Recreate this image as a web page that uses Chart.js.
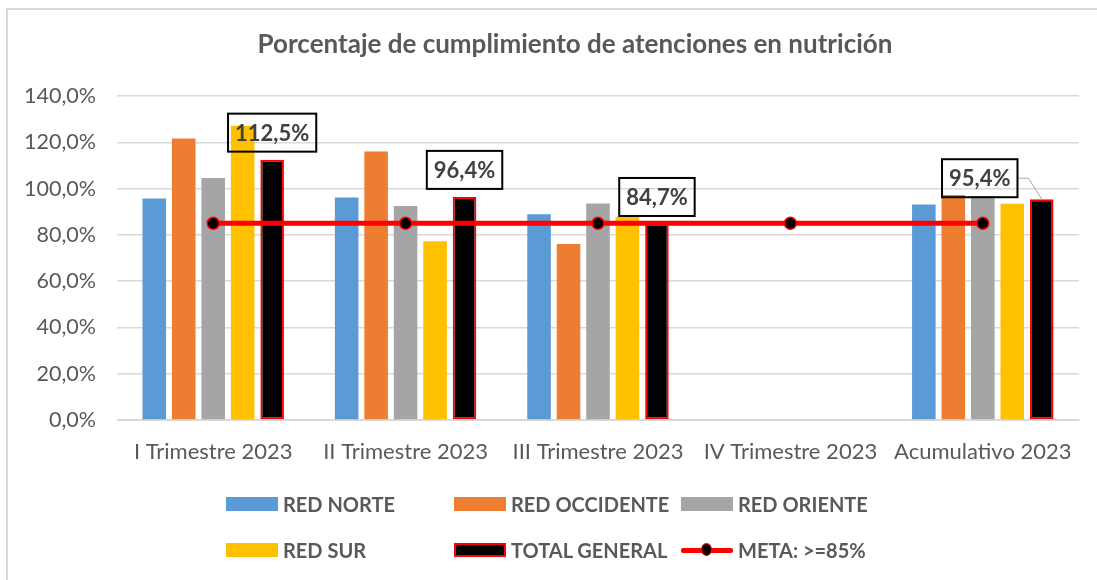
<!DOCTYPE html>
<html>
<head>
<meta charset="utf-8">
<script src="https://cdn.jsdelivr.net/npm/chart.js@4/dist/chart.umd.min.js"></script>
<style>
  html, body { margin: 0; padding: 0; background: #fff; }
  #wrap { position: relative; width: 1097px; height: 580px; overflow: hidden; font-family: Lato, 'Open Sans', sans-serif; }
  #frame { position: absolute; left: 6px; top: 8px; width: 1200px; height: 700px; border-left: 2px solid #d9d9d9; border-top: 2px solid #d9d9d9; pointer-events: none; }
  .lg { position: absolute; display: flex; align-items: center; font-weight: bold; font-size: 20px; color: #595959; white-space: nowrap; }
  .sw { width: 52px; height: 14px; margin-right: 5px; box-sizing: border-box; }
  .ln { width: 52px; height: 14px; margin-right: 5px; position: relative; }
  .ln:before { content: ''; position: absolute; left: 0; right: 0; top: 5px; height: 5px; background: #ff0000; border-radius: 2px; }
  .ln:after { content: ''; position: absolute; left: 20px; top: 0; width: 11px; height: 13px; background: #000; border: 1.5px solid #ff0000; border-radius: 50%; box-sizing: border-box; }
</style>
</head>
<body>
<div id="wrap">
  <canvas id="chart" width="1097" height="580"></canvas>
  <div id="frame"></div>
  <div id="legend"></div>
</div>
<script>
(function () {
  'use strict';

  var TITLE = 'Porcentaje de cumplimiento de atenciones en nutrición';
  var CATEGORIES = ['I Trimestre 2023', 'II Trimestre 2023', 'III Trimestre 2023', 'IV Trimestre 2023', 'Acumulativo 2023'];
  var RED_NORTE = [95.7, 96.1, 88.9, null, 93.1];
  var RED_OCCIDENTE = [121.6, 116.0, 76.0, null, 97.2];
  var RED_ORIENTE = [104.6, 92.5, 93.6, null, 96.8];
  var RED_SUR = [127.1, 77.2, 87.8, null, 93.4];
  var TOTAL_GENERAL = [112.5, 96.4, 84.7, null, 95.4];
  var META = [85, 85, 85, 85, 85];
  var Y_TICKS = [0, 20, 40, 60, 80, 100, 120, 140];

  // label box shift for the total series (last one is pulled left with a leader line)
  var LABEL_SHIFT = [[0, 8], [0, 8], [0, 8], [0, 8], [-62, 2]];

  var TEXT = '#595959';
  var GRID = '#d9d9d9';
  var FONT = 'Lato, "Open Sans", sans-serif';

  function pct(v) {
    return v.toFixed(1).replace('.', ',') + '%';
  }

  var chartTitle = {
    id: 'chartTitle',
    afterDraw: function (chart) {
      var ctx = chart.ctx;
      ctx.save();
      ctx.font = 'bold 26px ' + FONT;
      ctx.fillStyle = TEXT;
      ctx.textAlign = 'center';
      ctx.textBaseline = 'middle';
      ctx.fillText(TITLE, 575, 45);
      ctx.restore();
    }
  };

  var totalLabels = {
    id: 'totalLabels',
    afterDatasetsDraw: function (chart) {
      var meta = chart.getDatasetMeta(4);
      var ctx = chart.ctx;
      ctx.save();
      ctx.font = 'bold 22px ' + FONT;
      ctx.textAlign = 'center';
      ctx.textBaseline = 'middle';
      meta.data.forEach(function (bar, i) {
        var v = TOTAL_GENERAL[i];
        if (v === null) return;
        var txt = pct(v);
        var w = ctx.measureText(txt).width + 14;
        var h = 38;
        var cx = bar.x + LABEL_SHIFT[i][0];
        var bottom = bar.y - LABEL_SHIFT[i][1];
        var top = bottom - h;
        if (LABEL_SHIFT[i][0] !== 0) {
          ctx.strokeStyle = '#a6a6a6';
          ctx.lineWidth = 1;
          ctx.beginPath();
          ctx.moveTo(cx + w / 2, top + h / 2);
          ctx.lineTo(cx + w / 2 + 11, top + h / 2);
          ctx.lineTo(bar.x, bar.y);
          ctx.stroke();
        }
        ctx.strokeStyle = '#000';
        ctx.lineWidth = 2;
        ctx.strokeRect(cx - w / 2, top, w, h);
        ctx.fillStyle = '#404040';
        ctx.fillText(txt, cx, top + h / 2 + 1);
      });
      ctx.restore();
    }
  };

  function barSet(label, data, color) {
    return {
      type: 'bar', label: label, data: data, backgroundColor: color, borderWidth: 0,
      categoryPercentage: 0.766, barPercentage: 0.8, order: 1
    };
  }

  var datasets = [
    barSet('RED NORTE', RED_NORTE, '#5b9bd5'),
    barSet('RED OCCIDENTE', RED_OCCIDENTE, '#ed7d31'),
    barSet('RED ORIENTE', RED_ORIENTE, '#a5a5a5'),
    barSet('RED SUR', RED_SUR, '#ffc000'),
    {
      type: 'bar', label: 'TOTAL GENERAL', data: TOTAL_GENERAL, backgroundColor: '#000000',
      borderColor: '#ff0000', borderWidth: 2, borderSkipped: false,
      categoryPercentage: 0.766, barPercentage: 0.8, order: 1
    },
    {
      type: 'line', label: 'META: >=85%', data: META, borderColor: '#ff0000', borderWidth: 5,
      pointRadius: 6, pointBackgroundColor: '#000000', pointBorderColor: '#ff0000', pointBorderWidth: 1.5,
      fill: false, tension: 0, order: 0
    }
  ];

  new Chart(document.getElementById('chart').getContext('2d'), {
    data: { labels: CATEGORIES, datasets: datasets },
    options: {
      responsive: false,
      animation: false,
      layout: { padding: { top: 96, right: 18 } },
      plugins: {
        legend: { display: false },
        tooltip: { enabled: false },
        title: { display: false }
      },
      scales: {
        x: {
          grid: { display: false, drawTicks: false },
          border: { color: GRID, width: 1 },
          ticks: { color: TEXT, font: { family: FONT, size: 22 }, padding: 19, maxRotation: 0 },
          afterFit: function (s) { s.height = 160; }
        },
        y: {
          min: 0, max: 140,
          afterBuildTicks: function (s) { s.ticks = Y_TICKS.map(function (v) { return { value: v }; }); },
          grid: { color: GRID, lineWidth: 1.5, drawTicks: false },
          border: { display: false },
          ticks: { color: TEXT, font: { family: FONT, size: 21.5 }, padding: 21, callback: function (v) { return pct(v); } },
          afterFit: function (s) { s.width = 117; }
        }
      }
    },
    plugins: [totalLabels, chartTitle]
  });

  var LEGEND = [
    { label: 'RED NORTE', x: 226, y: 504, kind: 'sw', color: '#5b9bd5' },
    { label: 'RED OCCIDENTE', x: 454, y: 504, kind: 'sw', color: '#ed7d31' },
    { label: 'RED ORIENTE', x: 681, y: 504, kind: 'sw', color: '#a5a5a5' },
    { label: 'RED SUR', x: 226, y: 550, kind: 'sw', color: '#ffc000' },
    { label: 'TOTAL GENERAL', x: 454, y: 550, kind: 'sw', color: '#000000', border: '2px solid #ff0000' },
    { label: 'META: >=85%', x: 681, y: 550, kind: 'ln' }
  ];
  var legend = document.getElementById('legend');
  LEGEND.forEach(function (it) {
    var div = document.createElement('div');
    div.className = 'lg';
    div.style.left = it.x + 'px';
    div.style.top = (it.y - 12) + 'px';
    div.style.height = '24px';
    var mark = document.createElement('span');
    mark.className = it.kind;
    if (it.kind === 'sw') {
      mark.style.background = it.color;
      if (it.border) mark.style.border = it.border;
    }
    var txt = document.createElement('span');
    txt.textContent = it.label;
    div.appendChild(mark);
    div.appendChild(txt);
    legend.appendChild(div);
  });
})();
</script>
</body>
</html>
